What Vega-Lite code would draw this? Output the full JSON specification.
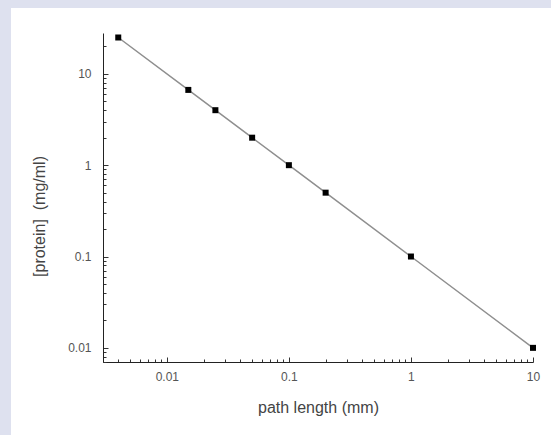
{
  "$schema": "https://vega.github.io/schema/vega-lite/v6.json",
  "width": 540,
  "height": 427,
  "autosize": {"type": "none"},
  "padding": {"left": 11, "top": 8, "right": 0, "bottom": 0},
  "background": "#dee1ef",
  "config": {
    "view": {"fill": "white", "stroke": null},
    "font": "Liberation Sans",
    "axis": {
      "grid": false,
      "domainColor": "#222222",
      "domainWidth": 1,
      "tickColor": "#333333",
      "tickWidth": 1,
      "labelFont": "Liberation Sans",
      "labelFontSize": 12,
      "labelColor": "#555555",
      "titleFont": "Liberation Sans",
      "titleFontSize": 16,
      "titleFontWeight": "normal",
      "titleColor": "#444444"
    }
  },
  "data": {
    "values": [
      {"path": 0.004, "protein": 25},
      {"path": 0.015, "protein": 6.67},
      {"path": 0.025, "protein": 4},
      {"path": 0.05, "protein": 2},
      {"path": 0.1, "protein": 1},
      {"path": 0.2, "protein": 0.5},
      {"path": 1, "protein": 0.1},
      {"path": 10, "protein": 0.01}
    ]
  },
  "encoding": {
    "x": {
      "field": "path",
      "type": "quantitative",
      "scale": {"type": "log", "domain": [0.003, 10], "range": [92, 522]},
      "axis": {
        "title": "path length (mm)",
        "orient": "bottom",
        "offset": -73,
        "values": [0.003, 0.004, 0.005, 0.006, 0.007, 0.008, 0.009, 0.01, 0.02, 0.03, 0.04, 0.05, 0.06, 0.07, 0.08, 0.09, 0.1, 0.2, 0.3, 0.4, 0.5, 0.6, 0.7, 0.8, 0.9, 1, 2, 3, 4, 5, 6, 7, 8, 9, 10],
        "labelExpr": "abs(log(datum.value)/LN10 - round(log(datum.value)/LN10)) < 0.001 ? format(datum.value, '~g') : ''",
        "tickSize": {"condition": {"test": "abs(log(datum.value)/LN10 - round(log(datum.value)/LN10)) < 0.001", "value": -5}, "value": -3},
        "labelPadding": 14,
        "labelFlush": false,
        "labelOverlap": false,
        "titlePadding": 15
      }
    },
    "y": {
      "field": "protein",
      "type": "quantitative",
      "scale": {"type": "log", "domain": [0.007, 28], "range": [354, 25]},
      "axis": {
        "title": "[protein]\u00a0\u00a0(mg/ml)",
        "orient": "left",
        "offset": -92,
        "values": [0.007, 0.008, 0.009, 0.01, 0.02, 0.03, 0.04, 0.05, 0.06, 0.07, 0.08, 0.09, 0.1, 0.2, 0.3, 0.4, 0.5, 0.6, 0.7, 0.8, 0.9, 1, 2, 3, 4, 5, 6, 7, 8, 9, 10, 20],
        "labelExpr": "abs(log(datum.value)/LN10 - round(log(datum.value)/LN10)) < 0.001 ? format(datum.value, '~g') : ''",
        "tickSize": {"condition": {"test": "abs(log(datum.value)/LN10 - round(log(datum.value)/LN10)) < 0.001", "value": -5}, "value": -3},
        "labelPadding": 17,
        "labelFlush": false,
        "labelOverlap": false,
        "titlePadding": 20,
        "titleY": 208
      }
    }
  },
  "layer": [
    {"mark": {"type": "line", "color": "#8f8f8f", "strokeWidth": 1.5}},
    {"mark": {"type": "square", "color": "#000000", "filled": true, "opacity": 1, "size": 36}}
  ]
}
